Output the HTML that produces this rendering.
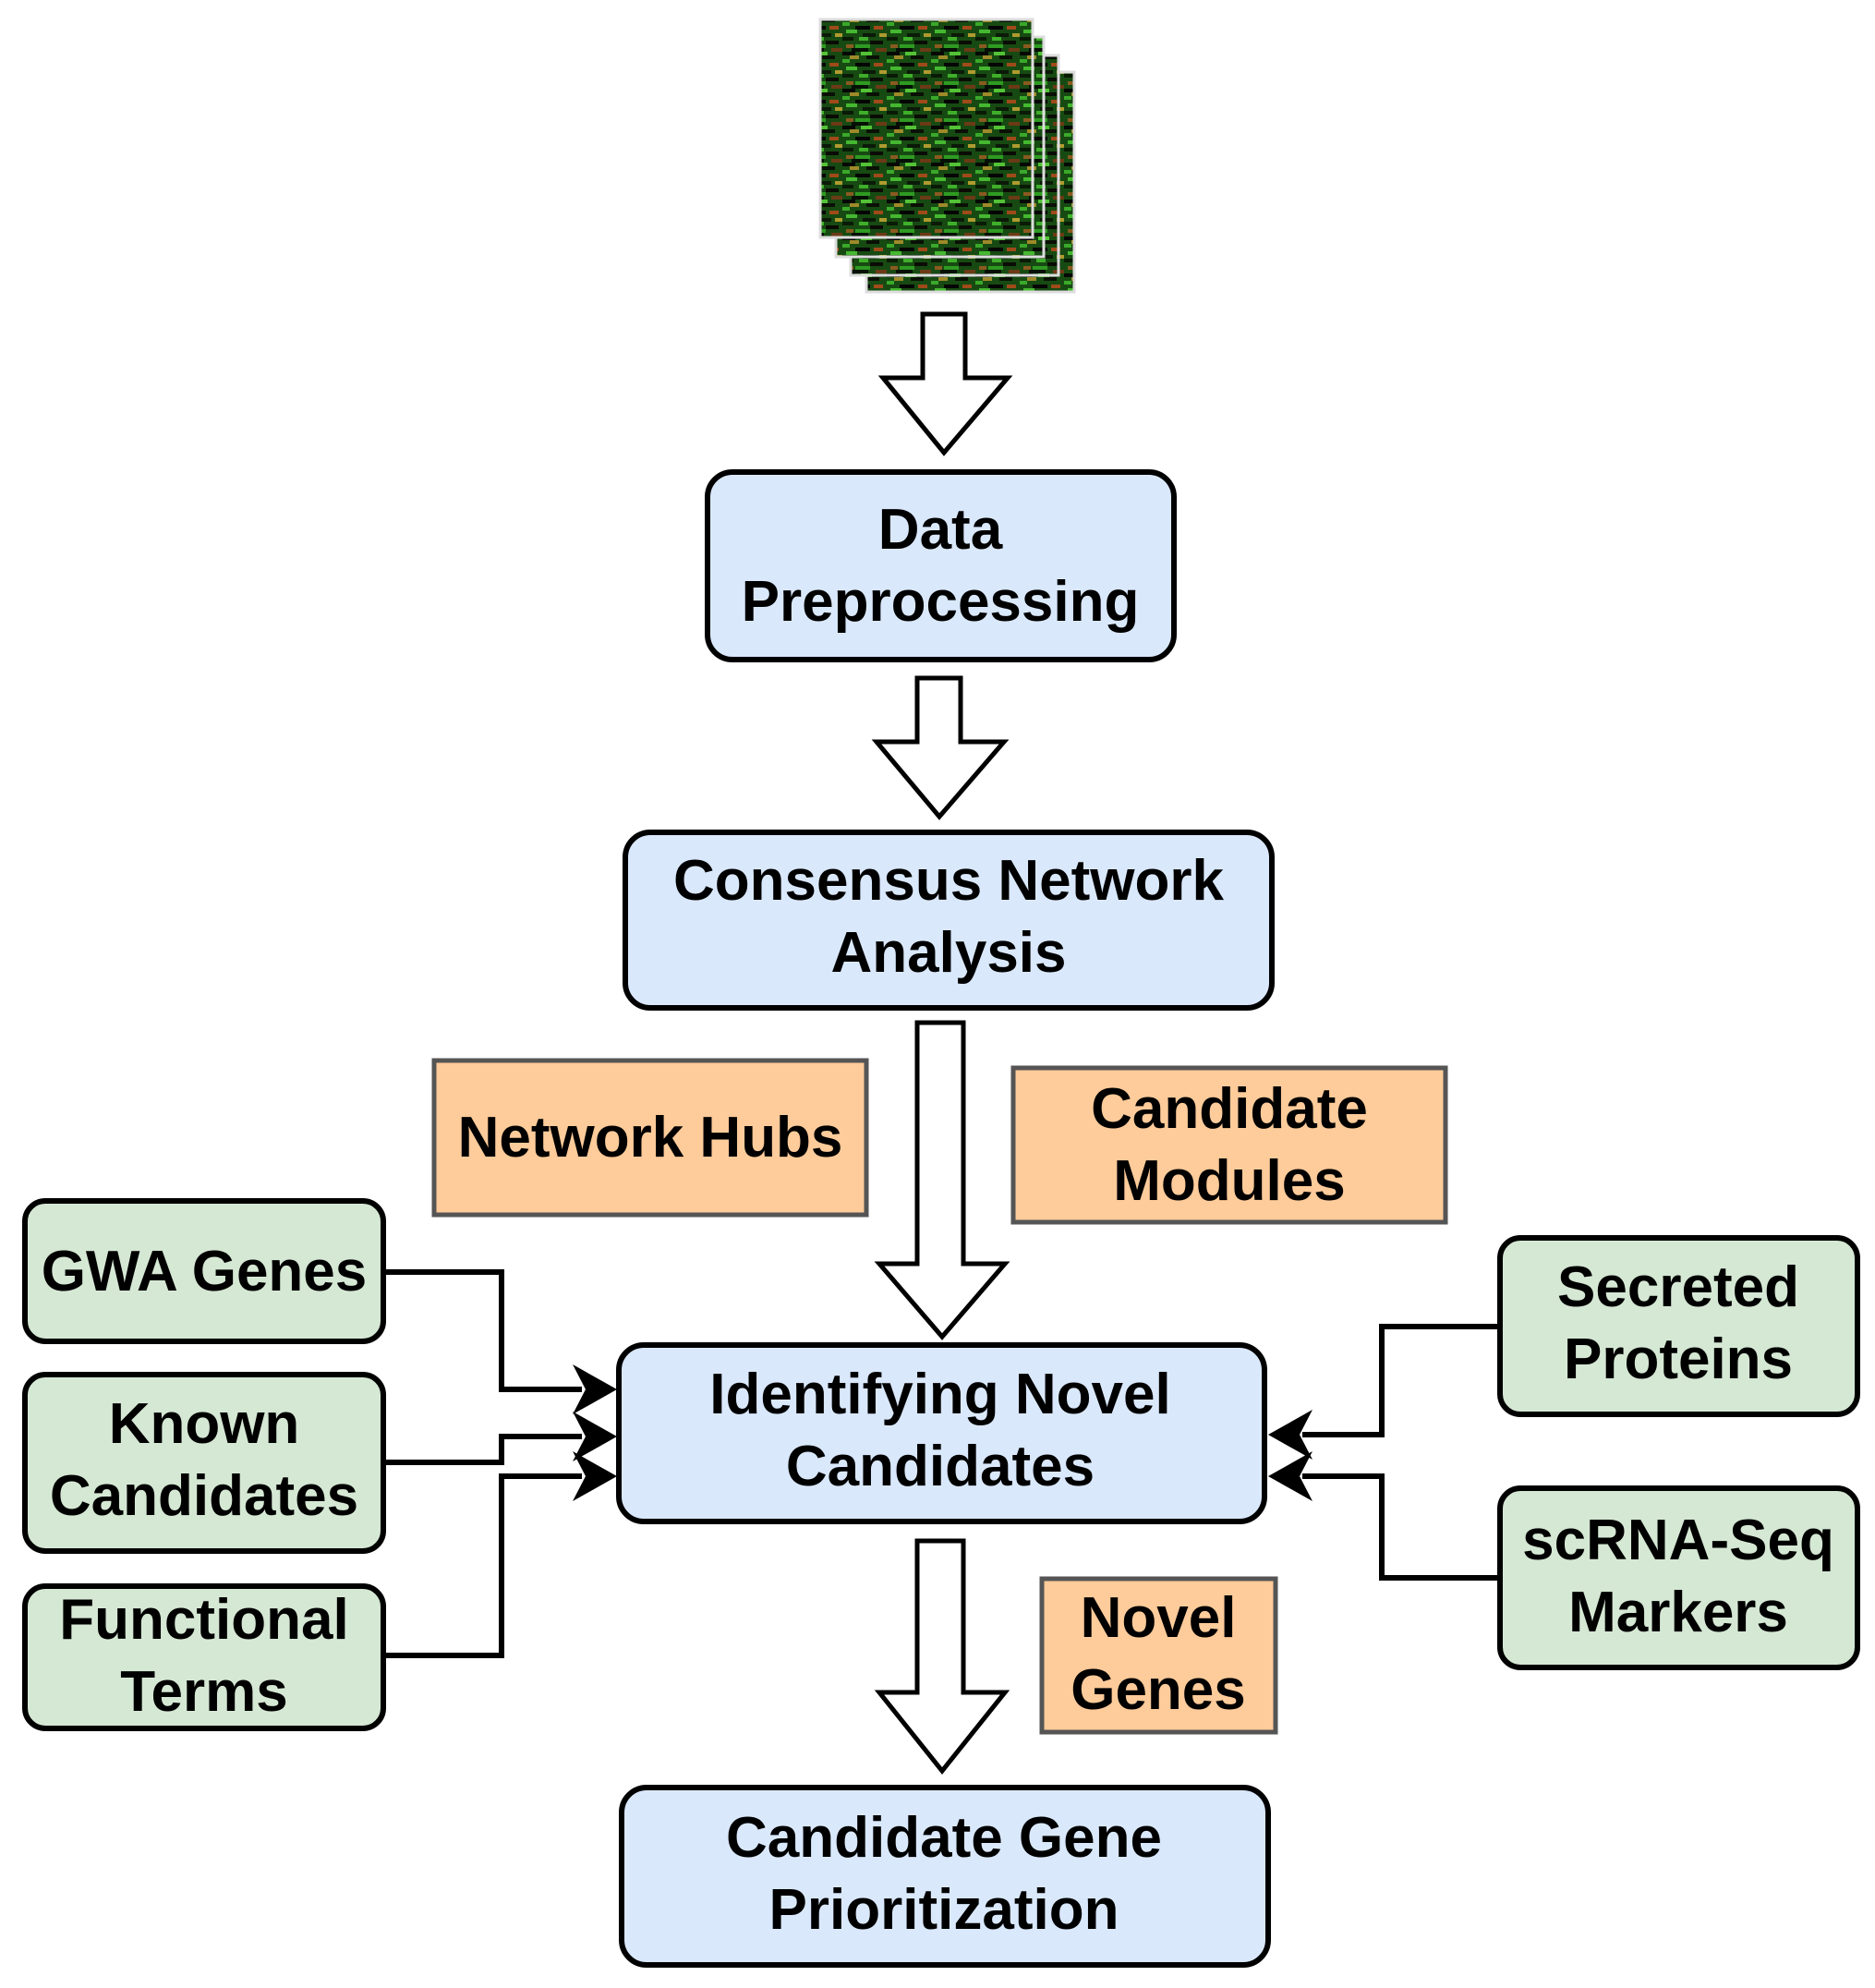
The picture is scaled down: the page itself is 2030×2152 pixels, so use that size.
<!DOCTYPE html>
<html><head><meta charset="utf-8"><style>
html,body{margin:0;padding:0;background:#fff;}
svg{display:block;}
text{font-family:"Liberation Sans",sans-serif;font-weight:bold;fill:#000;text-anchor:middle;}
</style></head><body>
<svg width="2030" height="2152" viewBox="0 0 2030 2152" xmlns="http://www.w3.org/2000/svg">
<defs>
<pattern id="hm" width="48" height="40" patternUnits="userSpaceOnUse">
<rect width="48" height="40" fill="#174a12"/>
<rect x="0" y="0" width="12" height="4" fill="#0a1a06"/>
<rect x="18" y="0" width="10" height="4" fill="#3fae2a"/>
<rect x="30" y="4" width="14" height="4" fill="#0b0b05"/>
<rect x="4" y="8" width="8" height="4" fill="#8a5a20"/>
<rect x="14" y="8" width="16" height="4" fill="#2f9a22"/>
<rect x="36" y="12" width="12" height="4" fill="#6c3a16"/>
<rect x="0" y="16" width="14" height="4" fill="#050805"/>
<rect x="20" y="16" width="12" height="4" fill="#53c236"/>
<rect x="8" y="20" width="10" height="4" fill="#9e8a2a"/>
<rect x="26" y="20" width="14" height="4" fill="#0a1006"/>
<rect x="0" y="24" width="8" height="4" fill="#3aa82a"/>
<rect x="14" y="28" width="16" height="4" fill="#050505"/>
<rect x="34" y="28" width="10" height="4" fill="#a04a1a"/>
<rect x="4" y="32" width="12" height="4" fill="#45b830"/>
<rect x="22" y="36" width="14" height="4" fill="#0b1a08"/>
<rect x="40" y="36" width="8" height="4" fill="#b09a30"/>
<rect x="10" y="12" width="18" height="4" fill="#061006"/>
</pattern>
</defs>

<g stroke="#ddd" stroke-width="3">
<rect x="938" y="78" width="225" height="238" fill="url(#hm)"/>
<rect x="921" y="60" width="225" height="238" fill="url(#hm)"/>
<rect x="905" y="40" width="225" height="238" fill="url(#hm)"/>
<rect x="888" y="21" width="230" height="236" fill="url(#hm)"/>
</g>

<g fill="#fff" stroke="#000" stroke-width="5" stroke-linejoin="miter">
<polygon points="999,340 1045,340 1045,409 1091,409 1022,490 956,409 999,409"/>
<polygon points="993,734 1040,734 1040,803 1087,803 1017,884 949,803 993,803"/>
<polygon points="993,1107 1043,1107 1043,1368 1088,1368 1020,1447 952,1368 993,1368"/>
<polygon points="993,1668 1043,1668 1043,1832 1088,1832 1020,1917 952,1832 993,1832"/>
</g>

<g fill="#dae8fc" stroke="#000" stroke-width="6">
<rect x="766" y="511" width="505" height="203" rx="27"/>
<rect x="677" y="901" width="700" height="190" rx="27"/>
<rect x="670" y="1456" width="699" height="191" rx="27"/>
<rect x="673" y="1935" width="700" height="192" rx="27"/>
</g>

<g fill="#fecb9a" stroke="#555" stroke-width="5">
<rect x="470" y="1148" width="468" height="167"/>
<rect x="1097" y="1156" width="468" height="167"/>
<rect x="1128" y="1709" width="253" height="166"/>
</g>

<g fill="#d5e8d4" stroke="#000" stroke-width="6">
<rect x="27" y="1300" width="388" height="152" rx="22"/>
<rect x="27" y="1488" width="388" height="191" rx="22"/>
<rect x="27" y="1717" width="388" height="154" rx="22"/>
<rect x="1624" y="1340" width="387" height="191" rx="22"/>
<rect x="1624" y="1611" width="387" height="194" rx="22"/>
</g>

<g fill="none" stroke="#000" stroke-width="6">
<polyline points="417,1377 543,1377 543,1504 630,1504"/>
<polyline points="417,1583 543,1583 543,1555 630,1555"/>
<polyline points="417,1792 543,1792 543,1598 630,1598"/>
<polyline points="1622,1436 1496,1436 1496,1553 1410,1553"/>
<polyline points="1622,1708 1496,1708 1496,1598 1410,1598"/>
</g>
<g fill="#000">
<polygon points="668,1504 620,1477 634,1504 620,1531"/>
<polygon points="668,1555 620,1528 634,1555 620,1582"/>
<polygon points="668,1598 620,1571 634,1598 620,1625"/>
<polygon points="1373,1553 1421,1526 1407,1553 1421,1580"/>
<polygon points="1373,1598 1421,1571 1407,1598 1421,1625"/>
</g>

<g font-size="62">
<text x="1018" y="594">Data</text>
<text x="1018" y="672">Preprocessing</text>
<text x="1027" y="974">Consensus Network</text>
<text x="1027" y="1052">Analysis</text>
<text x="704" y="1252">Network Hubs</text>
<text x="1331" y="1221">Candidate</text>
<text x="1331" y="1299">Modules</text>
<text x="221" y="1397">GWA Genes</text>
<text x="221" y="1562">Known</text>
<text x="221" y="1640">Candidates</text>
<text x="221" y="1774">Functional</text>
<text x="221" y="1852">Terms</text>
<text x="1817" y="1414">Secreted</text>
<text x="1817" y="1492">Proteins</text>
<text x="1817" y="1688">scRNA-Seq</text>
<text x="1817" y="1766">Markers</text>
<text x="1018" y="1530">Identifying Novel</text>
<text x="1018" y="1608">Candidates</text>
<text x="1254" y="1772">Novel</text>
<text x="1254" y="1850">Genes</text>
<text x="1022" y="2010">Candidate Gene</text>
<text x="1022" y="2088">Prioritization</text>
</g>
</svg>
</body></html>
